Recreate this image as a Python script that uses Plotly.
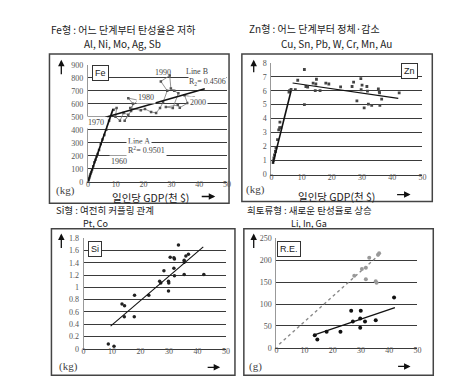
import plotly.graph_objects as go

W, H = 450, 379

# ---------------- data ----------------
# Fe panel: per-capita GDP (thousand $) vs steel consumption (kg), path over years
fe_gdp = [0.3, 0.5, 0.7, 0.9, 1.2, 1.5, 1.9, 2.3, 2.7, 3.1, 3.5, 4.0, 4.6, 5.2, 5.9, 6.6,
          7.6, 9.2, 10.3, 9.9, 11.5, 12.8, 14.5, 13.2, 15.5, 16.2,
          14.5, 18.0, 15.2, 19.0, 20.5, 22.7, 24.5, 25.9, 27.0, 28.5,
          26.2, 29.4, 29.8, 31.0, 32.5, 30.5, 28.0, 32.3, 33.0, 35.8, 34.7, 38.0, 41.8]
fe_kg = [12, 30, 45, 60, 75, 95, 120, 150, 170, 195, 215, 245, 290, 325, 360, 400,
         470, 555, 567, 500, 470, 530, 515, 470, 545, 600,
         643, 628, 567, 550, 560, 537, 530, 567, 612, 700,
         772, 817, 718, 700, 680, 567, 575, 590, 570, 605, 665, 650, 643]
fe_lineA_x = [0, 9]
fe_lineA_y = [0, 560]
fe_lineB_x = [7, 42]
fe_lineB_y = [500, 715]
fe_year_labels = ["1960", "1970", "1980", "1990", "2000"]

# Zn panel
zn_gdp = [0.5, 0.6, 0.8, 1.0, 1.3, 1.5, 2.0, 2.4, 2.7, 2.8, 3.1, 5.8, 6.0,
          10.9, 8.7, 6.5, 7.9, 11.4, 12.0, 13.8, 14.7, 14.9, 14.5, 16.1, 18.0, 19.0, 10.9,
          22.9, 26.7, 27.2, 29.6, 30.0, 29.7, 31.6, 31.8, 28.3, 30.7, 32.1, 33.2,
          35.4, 35.7, 35.8, 35.9, 36.5, 42.3]
zn_kg = [0.85, 1.0, 1.2, 1.4, 1.65, 1.9, 2.5, 3.2, 3.35, 3.75, 3.35, 5.9, 6.0,
         7.52, 6.75, 6.09, 6.08, 6.3, 6.25, 6.55, 6.48, 6.82, 6.0, 6.0, 6.55, 6.48, 5.0,
         6.28, 6.3, 6.62, 6.86, 6.4, 6.07, 6.3, 5.97, 5.27, 4.77, 5.04, 4.95,
         6.13, 5.95, 5.85, 4.95, 5.4, 5.84]
zn_line1_x = [0.5, 6.5]
zn_line1_y = [0.8, 6.0]
zn_line2_x = [7, 42]
zn_line2_y = [6.55, 5.45]

# Si panel
si_gdp = [8.7, 10.7, 13.5, 14.4, 14.3, 17.9, 17.8, 22.9, 28.2, 26.7, 27.1, 29.8, 29.9, 29.8,
          30.4, 31.7, 31.9, 31.7, 31.9, 33.3, 35.3, 35.3, 35.3, 35.9, 36.8, 42.2]
si_kg = [0.08, 0.04, 0.73, 0.70, 0.52, 0.87, 0.52, 0.87, 1.27, 1.10, 1.07, 1.10, 1.07, 0.94,
         1.49, 1.48, 1.46, 1.31, 1.19, 1.69, 1.44, 1.41, 1.21, 1.51, 1.54, 1.21]
si_line_x = [9.5, 42]
si_line_y = [0.37, 1.66]

# Rare-earth panel (g)
re_gdp = [13.6, 14.5, 17.8, 22.7, 26.5, 27.1, 29.9, 29.7, 29.7, 31.4, 35.2, 41.7]
re_g = [29, 19, 37, 37, 85, 60, 85, 67, 46, 60, 63, 115]
re_line_x = [14, 42]
re_line_y = [31, 92]
re2_gdp = [27.6, 30.3, 31.7, 31.7, 32.9, 35.2, 35.5, 36.0, 36.4]
re2_g = [165, 180, 183, 157, 206, 152, 149, 213, 216]
re2_line_x = [1, 37]
re2_line_y = [8, 216]

# ---------------- figure ----------------
def X(px):
    return px / W

def Y(py):
    return 1 - py / H

fig = go.Figure()

DARK = "#222222"
GRID = "#3a3a3a"
TICKC = "#555555"
SERIF = "Liberation Serif"
KR = "Noto Sans CJK KR"

# Fe
fig.add_trace(go.Scatter(x=fe_gdp, y=fe_kg, mode="lines+markers", xaxis="x", yaxis="y",
                         line=dict(color="#777777", width=0.8),
                         marker=dict(size=2.5, color="#555555", symbol="square")))
fig.add_trace(go.Scatter(x=fe_lineA_x, y=fe_lineA_y, mode="lines", xaxis="x", yaxis="y",
                         line=dict(color="#111111", width=1.6)))
fig.add_trace(go.Scatter(x=fe_lineB_x, y=fe_lineB_y, mode="lines", xaxis="x", yaxis="y",
                         line=dict(color="#111111", width=1.6)))
# Zn
fig.add_trace(go.Scatter(x=zn_gdp, y=zn_kg, mode="markers", xaxis="x2", yaxis="y2",
                         marker=dict(size=2.8, color="#444444", symbol="square")))
fig.add_trace(go.Scatter(x=zn_line1_x, y=zn_line1_y, mode="lines", xaxis="x2", yaxis="y2",
                         line=dict(color="#111111", width=1.6)))
fig.add_trace(go.Scatter(x=zn_line2_x, y=zn_line2_y, mode="lines", xaxis="x2", yaxis="y2",
                         line=dict(color="#111111", width=1.2)))
# Si
fig.add_trace(go.Scatter(x=si_gdp, y=si_kg, mode="markers", xaxis="x3", yaxis="y3",
                         marker=dict(size=3.5, color="#222222")))
fig.add_trace(go.Scatter(x=si_line_x, y=si_line_y, mode="lines", xaxis="x3", yaxis="y3",
                         line=dict(color="#111111", width=1.1)))
# RE
fig.add_trace(go.Scatter(x=re2_line_x, y=re2_line_y, mode="lines", xaxis="x4", yaxis="y4",
                         line=dict(color="#888888", width=1.4, dash="dot")))
fig.add_trace(go.Scatter(x=re2_gdp, y=re2_g, mode="markers", xaxis="x4", yaxis="y4",
                         marker=dict(size=4, color="#999999")))
fig.add_trace(go.Scatter(x=re_gdp, y=re_g, mode="markers", xaxis="x4", yaxis="y4",
                         marker=dict(size=4, color="#111111")))
fig.add_trace(go.Scatter(x=re_line_x, y=re_line_y, mode="lines", xaxis="x4", yaxis="y4",
                         line=dict(color="#111111", width=1.3)))


def xax(dom, anchor):
    return dict(domain=dom, anchor=anchor, range=[0, 50], tickvals=[0, 10, 20, 30, 40, 50],
                showgrid=False, zeroline=False, showline=True, linecolor=GRID, linewidth=1,
                ticks="", tickfont=dict(family=SERIF, size=8, color=TICKC), ticklabelstandoff=-5,
                fixedrange=True)


def yax(dom, anchor, rng, vals, texts):
    return dict(domain=dom, anchor=anchor, range=rng, tickvals=vals, ticktext=texts,
                showgrid=True, gridcolor=GRID, gridwidth=1, zeroline=False,
                showline=True, linecolor="#999999", linewidth=1,
                ticks="", tickfont=dict(family=SERIF, size=8, color=TICKC), ticklabelstandoff=2,
                fixedrange=True)


fe_vals = [0, 100, 200, 300, 400, 500, 600, 700, 800, 900]
zn_vals = [0, 1, 2, 3, 4, 5, 6, 7, 8]
si_vals = [0, 0.2, 0.4, 0.6, 0.8, 1.0, 1.2, 1.4, 1.6, 1.8]
si_text = ["0", "0.2", "0.4", "0.6", "0.8", "1", "1.2", "1.4", "1.6", "1.8"]
re_vals = [0, 50, 100, 150, 200, 250]

fig.update_layout(
    width=W, height=H, margin=dict(l=0, r=0, t=0, b=0),
    paper_bgcolor="white", plot_bgcolor="white", showlegend=False,
    xaxis=xax([X(79), X(220)], "y"),
    yaxis=yax([Y(174), Y(54)], "x", [0, 900], fe_vals, [str(v) for v in fe_vals]),
    xaxis2=xax([X(265), X(418)], "y2"),
    yaxis2=yax([Y(166.5), Y(52)], "x2", [0, 8], zn_vals, [str(v) for v in zn_vals]),
    xaxis3=xax([X(74.5), X(219)], "y3"),
    yaxis3=yax([Y(345), Y(231.7)], "x3", [0, 1.8], si_vals, si_text),
    xaxis4=xax([X(270), X(413)], "y4"),
    yaxis4=yax([Y(344), Y(232)], "x4", [0, 250], re_vals, [str(v) for v in re_vals]),
)

# frames
shapes = []
for (x0, y0, x1, y1) in [(40, 43, 222, 196), (235, 43, 428, 194), (42, 222, 228, 372), (237, 222, 429, 372)]:
    shapes.append(dict(type="rect", xref="paper", yref="paper", x0=X(x0), x1=X(x1), y0=Y(y1), y1=Y(y0),
                       line=dict(color="#444444", width=1.5), fillcolor="rgba(0,0,0,0)", layer="below"))
fig.update_layout(shapes=shapes)

ann = []

def txt(px, py, s, size=10, family=KR, color=DARK, xanchor="left", **kw):
    ann.append(dict(x=X(px), y=Y(py), xref="paper", yref="paper", text=s, showarrow=False,
                    xanchor=xanchor, yanchor="middle", font=dict(family=family, size=size, color=color), **kw))

# titles
txt(40, 18, "Fe형 : 어느 단계부터 탄성율은 저하")
txt(73, 32, "Al, Ni, Mo, Ag, Sb")
txt(240, 17, "Zn형 : 어느 단계부터 정체·감소")
txt(273, 32, "Cu, Sn, Pb, W, Cr, Mn, Au")
txt(45, 203, "Si형 : 여전히 커플링 관계", size=9.5)
txt(72, 217, "Pt, Co", size=9)
txt(238, 203, "희토류형 : 새로운 탄성율로 상승", size=9.5)
txt(283, 217, "Li, In, Ga", size=9)

# x labels
txt(142, 189.5, "일인당 GDP(천 $)", size=10.5, xanchor="center")
txt(331, 188.5, "일인당 GDP(천 $)", size=10.5, xanchor="center")

# unit labels
txt(45, 183, "(kg)", size=11, family=SERIF, color="#444444")
txt(237, 182, "(kg)", size=11, family=SERIF, color="#444444")
txt(48, 363, "(kg)", size=11, family=SERIF, color="#444444")
txt(240, 363, "(g)", size=11, family=SERIF, color="#444444")

# element boxes
for (cx, cy, s) in [(92, 62, "Fe"), (405, 60, "Zn"), (86, 243, "Si"), (283, 243, "R.E.")]:
    txt(cx, cy, s, size=9, family="Liberation Sans", xanchor="center",
        bordercolor="#333333", borderwidth=1, borderpad=2, bgcolor="white")

# arrows
for (hx, hy, ax, ay) in [(52, 49, 0, 16), (247, 49, 0, 14), (52, 227, 0, 16), (247, 227, 0, 16),
                         (208, 189, -15, 0), (406, 187, -15, 0), (213, 364, -14, 0), (406, 363, -14, 0)]:
    ann.append(dict(x=X(hx), y=Y(hy), xref="paper", yref="paper", ax=ax, ay=ay, showarrow=True,
                    arrowhead=2, arrowsize=1, arrowwidth=1.3, arrowcolor="#111111", text=""))

# Fe in-plot labels (data coords)
def dtxt(x, y, s, xanchor="left", **kw):
    ann.append(dict(x=x, y=y, xref="x", yref="y", text=s, showarrow=False, xanchor=xanchor,
                    yanchor="middle", font=dict(family=SERIF, size=8, color="#444444"), **kw))

dtxt(7.4, 159, fe_year_labels[0], bgcolor="white")
dtxt(6.4, 454, fe_year_labels[1], xanchor="right", bgcolor="white")
dtxt(17.4, 650, fe_year_labels[2], bgcolor="white")
dtxt(27.0, 840, fe_year_labels[3], xanchor="center")
dtxt(35.8, 613, fe_year_labels[4], bgcolor="white")
dtxt(13.8, 310, "Line A", bgcolor="white")
dtxt(13.8, 245, "R<sup>2</sup>= 0.9501", bgcolor="white")
dtxt(43.5, 850, "Line B", xanchor="right", borderpad=0)
dtxt(49.8, 765, "R<sub>2</sub>= 0.4506", xanchor="right", bgcolor="white", borderpad=0)

fig.update_layout(annotations=ann)

fig.write_html("out.html")
